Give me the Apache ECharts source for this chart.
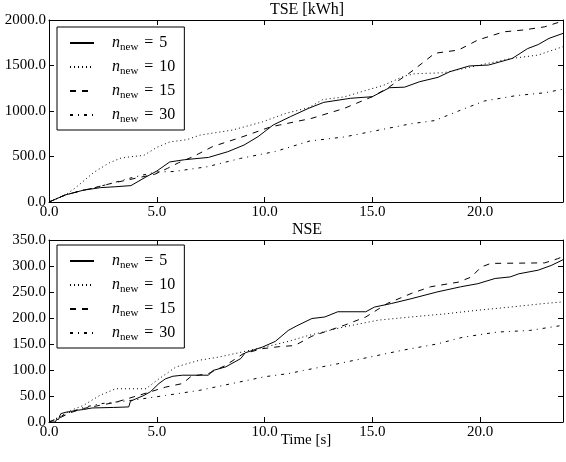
<!DOCTYPE html>
<html>
<head>
<meta charset="utf-8">
<script src="https://cdn.jsdelivr.net/npm/echarts@6/dist/echarts.min.js"></script>
<style>html,body{margin:0;padding:0;background:#fff}#c{width:566px;height:462px}</style>
</head>
<body>
<div id="c"></div>
<script>
// ---------- data (time [s], value) ----------
const xTicks = [0, 5, 10, 15, 20];
const legendLabels = ['5', '10', '15', '30'];

const tse5 = [[0,0],[0.75,77],[1.6,130],[2.4,158],[3.1,168],[3.8,180],[4.5,275],[5.0,340],[5.6,440],[6.3,465],[7.4,490],[8.3,553],[9.05,626],[9.7,718],[10.4,846],[11.2,938],[12.05,1030],[12.75,1095],[14.0,1140],[15.0,1157],[15.8,1256],[16.5,1262],[17.2,1322],[18.05,1370],[18.6,1432],[19.5,1495],[20.4,1505],[21.5,1578],[22.2,1685],[22.7,1730],[23.2,1798],[23.85,1853]];
const tse10 = [[0,0],[0.75,77],[1.2,150],[2.1,330],[2.8,430],[3.3,480],[3.8,498],[4.4,512],[5.0,600],[5.6,660],[6.4,685],[7.0,735],[8.5,790],[9.9,880],[11.0,975],[12.05,1036],[12.7,1125],[13.7,1155],[14.9,1240],[15.5,1280],[16.5,1385],[17.0,1410],[18.3,1420],[19.9,1500],[21.4,1575],[22.7,1615],[23.85,1707]];
const tse15 = [[0,0],[0.75,77],[1.6,130],[2.0,150],[2.9,205],[4.0,260],[4.9,304],[5.5,370],[6.0,430],[6.7,500],[7.6,610],[8.9,710],[10.3,827],[10.7,846],[12.2,920],[13.7,1029],[15.0,1157],[15.7,1250],[16.8,1430],[17.9,1634],[19.0,1670],[19.9,1780],[21.1,1870],[22.0,1890],[23.0,1925],[23.85,1990]];
const tse30 = [[0,0],[0.75,77],[1.6,130],[2.0,150],[2.9,205],[3.8,265],[4.6,310],[5.0,330],[5.8,335],[7.35,388],[8.9,480],[10.5,555],[12.1,670],[13.7,715],[15.2,785],[16.8,860],[17.9,895],[19.0,1000],[20.2,1110],[21.7,1170],[23.0,1200],[23.85,1240]];

const nse5 = [[0,0],[0.3,0],[0.35,5],[0.45,5],[0.5,12],[0.55,16],[0.8,19],[1.0,20],[1.2,22],[1.6,24],[2.0,27],[3.0,28],[3.7,29],[3.78,40],[4.0,44],[4.4,51],[4.7,58],[5.1,74],[5.4,83],[5.75,88],[6.2,90],[7.4,90],[7.6,99],[8.2,106],[8.9,122],[9.1,133],[9.9,144],[10.5,155],[11.1,176],[11.5,185],[12.2,199],[12.8,202],[13.4,212],[14.7,212],[15.1,221],[15.9,228],[16.8,237],[18.0,250],[19.1,260],[19.9,266],[20.7,276],[21.4,279],[21.8,285],[22.7,292],[23.3,301],[23.85,312]];
const nse10 = [[0,0],[0.5,10],[1.0,22],[1.6,32],[2.35,51],[3.1,64],[4.5,64],[5.0,80],[5.9,106],[7.0,119],[7.9,125],[9.0,135],[10.4,148],[11.1,155],[12.0,166],[13.7,183],[15.3,196],[16.8,202],[18.4,208],[19.9,215],[21.4,221],[23.0,228],[23.85,231]];
const nse15 = [[0,0],[0.5,8],[1.0,18],[1.6,26],[2.35,32],[3.1,38],[3.9,48],[4.7,58],[5.4,67],[6.2,74],[6.6,88],[7.4,93],[8.2,109],[9.0,131],[9.9,141],[10.7,145],[11.4,147],[12.2,165],[13.7,186],[14.7,202],[15.7,228],[16.8,247],[17.7,260],[19.0,269],[19.6,279],[20.05,298],[20.5,305],[23.0,306],[23.6,314],[23.85,318]];
const nse30 = [[0,0],[0.8,16],[1.6,28],[2.35,35],[3.9,42],[5.4,51],[7.0,61],[8.5,74],[10.0,87],[11.1,93],[11.8,99],[13.4,112],[14.9,125],[16.4,138],[18.0,150],[19.2,163],[20.8,173],[22.3,176],[23.85,186]];

// ---------- styling ----------
const FONT = '"Liberation Serif", "DejaVu Serif", serif';
const XMAX = 23.85;
const dashes = [null, [1, 3], [6, 6], [3, 5, 1, 5]];

const chart = echarts.init(document.getElementById('c'), null, {renderer: 'canvas'});

function xAxes(grid) {
  const base = {
    type: 'value', gridIndex: grid, min: 0, max: XMAX, interval: 5,
    splitLine: {show: false},
    axisLine: {show: true, onZero: false, lineStyle: {color: '#000', width: 1}},
    axisTick: {show: true, inside: true, length: 5, lineStyle: {color: '#000'}},
  };
  return [
    Object.assign({}, base, {position: 'bottom',
      axisLabel: {show: true, margin: 3, color: '#000', fontFamily: FONT, fontSize: 15,
        formatter: v => (xTicks.indexOf(v) >= 0 ? v.toFixed(1) : '')}}),
    Object.assign({}, base, {position: 'top', axisLabel: {show: false}})
  ];
}
function yAxes(grid, max, interval) {
  const base = {
    type: 'value', gridIndex: grid, min: 0, max: max, interval: interval,
    splitLine: {show: false},
    axisLine: {show: true, onZero: false, lineStyle: {color: '#000', width: 1}},
    axisTick: {show: true, inside: true, length: 5, lineStyle: {color: '#000'}},
  };
  return [
    Object.assign({}, base, {position: 'left',
      axisLabel: {show: true, margin: 3, color: '#000', fontFamily: FONT, fontSize: 15,
        formatter: v => v.toFixed(1)}}),
    Object.assign({}, base, {position: 'right', axisLabel: {show: false}})
  ];
}

const xa = xAxes(0).concat(xAxes(1));
xa[2].name = 'Time [s]';
xa[2].nameLocation = 'middle';
xa[2].nameGap = 11;
xa[2].nameMoveOverlap = false;
xa[2].nameTextStyle = {color: '#000', fontFamily: FONT, fontSize: 15, verticalAlign: 'top'};

const ya = yAxes(0, 2000, 500).concat(yAxes(1, 350, 50));

function mkSeries(prefix, arrs, xi, yi) {
  return arrs.map((d, i) => ({
    name: prefix + legendLabels[i],
    type: 'line', xAxisIndex: xi, yAxisIndex: yi,
    data: d, symbol: 'none', showSymbol: false, silent: true,
    lineStyle: {color: '#000', width: 1, type: dashes[i] || 'solid'},
    itemStyle: {color: '#000'}
  }));
}
const series = mkSeries('TSE ', [tse5, tse10, tse15, tse30], 0, 0)
  .concat(mkSeries('NSE ', [nse5, nse10, nse15, nse30], 2, 2));

function legend(prefix, top) {
  return {
    data: legendLabels.map(l => prefix + l),
    orient: 'vertical', left: 57, top: top,
    itemWidth: 24, itemHeight: 14, itemGap: 4,
    padding: [6, 7, 5, 12],
    backgroundColor: '#fff', borderColor: '#000', borderWidth: 1, borderRadius: 0,
    selectedMode: false,
    itemStyle: {color: 'rgba(0,0,0,0)', borderWidth: 0, opacity: 0},
    formatter: name => '{n|n}{s|new}{q|=}{v|' + name.split(' ')[1] + '}',
    textStyle: {
      color: '#000',
      rich: {
        n: {fontFamily: FONT, fontStyle: 'italic', fontSize: 16, height: 20, lineHeight: 20, padding: [0, 0, 0, 13], verticalAlign: 'middle'},
        s: {fontFamily: FONT, fontSize: 11, lineHeight: 12, verticalAlign: 'bottom'},
        q: {fontFamily: FONT, fontSize: 16, height: 20, lineHeight: 20, padding: [0, 6, 0, 6], verticalAlign: 'middle'},
        v: {fontFamily: FONT, fontSize: 16, height: 20, lineHeight: 20, padding: [0, 2, 0, 0], verticalAlign: 'middle'}
      }
    }
  };
}

chart.setOption({
  animation: false,
  backgroundColor: '#fff',
  grid: [
    {left: 49, right: 1, top: 20, height: 182},
    {left: 49, right: 1, top: 240, height: 182}
  ],
  xAxis: xa,
  yAxis: ya,
  legend: [legend('TSE ', 27), legend('NSE ', 245)],
  graphic: [
    {type: 'text', x: 307, y: 10, style: {text: 'TSE [kWh]', align: 'center', verticalAlign: 'middle', font: '16px ' + FONT, fill: '#000'}},
    {type: 'text', x: 307, y: 230, style: {text: 'NSE', align: 'center', verticalAlign: 'middle', font: '16px ' + FONT, fill: '#000'}}
  ],
  series: series
});
</script>
</body>
</html>
